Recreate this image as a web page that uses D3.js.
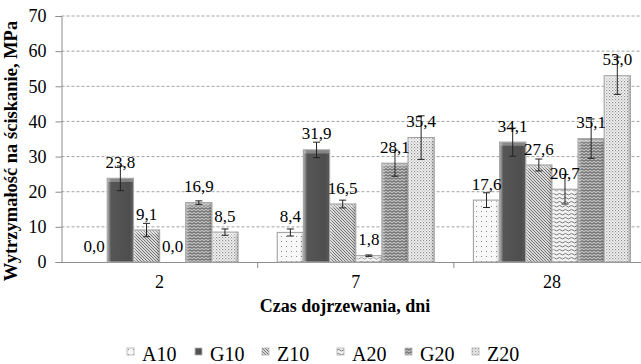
<!DOCTYPE html>
<html><head><meta charset="utf-8">
<script src="https://cdn.jsdelivr.net/npm/d3@7/dist/d3.min.js"></script>
<style>body{margin:0;background:#fff}svg{display:block}</style>
</head><body><svg id="c" width="641" height="364"></svg>
<script>
const categories = ["2", "7", "28"];
const seriesNames = ["A10", "G10", "Z10", "A20", "G20", "Z20"];
const A10 = [0.0, 8.4, 17.6];
const G10 = [23.8, 31.9, 34.1];
const Z10 = [9.1, 16.5, 27.6];
const A20 = [0.0, 1.8, 20.7];
const G20 = [16.9, 28.1, 35.1];
const Z20 = [8.5, 35.4, 53.0];
const errA10 = [0, 1.0, 2.1];
const errG10 = [3.5, 2.2, 4.0];
const errZ10 = [1.9, 1.1, 1.7];
const errA20 = [0, 0.2, 4.2];
const errG20 = [0.5, 3.7, 5.6];
const errZ20 = [0.9, 6.2, 5.3];
const yTicks = [0, 10, 20, 30, 40, 50, 60, 70];
const yTitle = "Wytrzymałość na ściskanie, MPa";
const xTitle = "Czas dojrzewania, dni";

(function () {
const FONT = "'Liberation Serif', 'Times New Roman', Times, serif";
const values = [A10, G10, Z10, A20, G20, Z20];
const errs = [errA10, errG10, errZ10, errA20, errG20, errZ20];
const data = [];
categories.forEach((c, ci) => seriesNames.forEach((s, si) => data.push({c, s, si, v: values[si][ci], e: errs[si][ci]})));

const svg = d3.select("#c");
const defs = svg.append("defs");
function pat(id, w, h, build, bg) {
  const p = defs.append("pattern").attr("id", id).attr("patternUnits", "userSpaceOnUse").attr("width", w).attr("height", h);
  p.append("rect").attr("width", w).attr("height", h).attr("fill", bg);
  build(p);
}
pat("pA10", 5, 5, p => { p.append("rect").attr("x", 1).attr("y", 1).attr("width", 1).attr("height", 1).attr("fill", "#8a8a8a"); }, "#f8f8f8");
pat("pZ10", 3, 3, p => { p.append("path").attr("d", "M-1,-1 L4,4 M-1,2 L1,4 M2,-1 L4,1").attr("stroke", "#6a6a6a").attr("stroke-width", 0.9); }, "#d8d8d8");
pat("pA20", 6, 4, p => { p.append("path").attr("d", "M0,2.2 Q1.5,0.6 3,2.2 T6,2.2").attr("stroke", "#6e6e6e").attr("stroke-width", 0.9).attr("fill", "none"); }, "#f2f2f2");
pat("pG20", 4, 3, p => { p.append("path").attr("d", "M0,2.3 L2,0.7 L4,2.3").attr("stroke", "#4e4e4e").attr("stroke-width", 1).attr("fill", "none"); }, "#bdbdbd");
pat("pZ20", 3, 3, p => { p.append("rect").attr("x", 0).attr("y", 0).attr("width", 1.2).attr("height", 1.2).attr("fill", "#8c8c8c"); p.append("rect").attr("x", 1.5).attr("y", 1.5).attr("width", 1.2).attr("height", 1.2).attr("fill", "#b0b0b0"); }, "#f4f4f4");
const g10 = defs.append("linearGradient").attr("id", "gG10").attr("x1", 0).attr("x2", 1).attr("y1", 0).attr("y2", 0);
g10.append("stop").attr("offset", "0%").attr("stop-color", "#7a7a7a");
g10.append("stop").attr("offset", "15%").attr("stop-color", "#565656");
g10.append("stop").attr("offset", "85%").attr("stop-color", "#4e4e4e");
g10.append("stop").attr("offset", "100%").attr("stop-color", "#6e6e6e");
const shade = defs.append("linearGradient").attr("id", "shade").attr("x1", 0).attr("x2", 1).attr("y1", 0).attr("y2", 0);
shade.append("stop").attr("offset", "0%").attr("stop-color", "#fff").attr("stop-opacity", 0.35);
shade.append("stop").attr("offset", "12%").attr("stop-color", "#fff").attr("stop-opacity", 0);
shade.append("stop").attr("offset", "88%").attr("stop-color", "#000").attr("stop-opacity", 0);
shade.append("stop").attr("offset", "100%").attr("stop-color", "#000").attr("stop-opacity", 0.18);
const fills = {A10: "url(#pA10)", G10: "url(#gG10)", Z10: "url(#pZ10)", A20: "url(#pA20)", G20: "url(#pG20)", Z20: "url(#pZ20)"};

const pl = 61.5, pr = 650, pt = 16, pb = 262;
const x0 = d3.scaleBand().domain(categories).range([pl, pr]).paddingInner(0).paddingOuter(0);
const bw = x0.bandwidth();
const x1 = d3.scaleBand().domain(seriesNames).range([bw * 0.1, bw * 0.9]);
const y = d3.scaleLinear().domain([0, 70]).range([pb, pt]);

svg.append("g").selectAll("line").data(yTicks.filter(t => t > 0)).join("line")
  .attr("x1", pl).attr("x2", 641).attr("y1", d => y(d)).attr("y2", d => y(d))
  .attr("stroke", "#8c8c8c").attr("stroke-width", 0.8).attr("stroke-dasharray", "3,2");

const yAx = svg.append("g").attr("transform", `translate(${pl},0)`).call(d3.axisLeft(y).tickValues(yTicks).tickSize(6).tickPadding(9).tickFormat(d3.format("d")));
yAx.select(".domain").attr("stroke", "#8c8c8c");
yAx.selectAll(".tick line").attr("stroke", "#8c8c8c");
yAx.selectAll("text").attr("font-size", 18).attr("fill", "#000");

const xAx = svg.append("g").attr("transform", `translate(0,${pb})`).call(d3.axisBottom(x0).tickSize(0).tickPadding(13));
xAx.select(".domain").attr("stroke", "#8c8c8c");
xAx.selectAll("text").attr("font-size", 18).attr("fill", "#000");
svg.append("g").selectAll("line").data(categories.slice(1)).join("line")
  .attr("x1", d => x0(d)).attr("x2", d => x0(d)).attr("y1", pb).attr("y2", pb + 6)
  .attr("stroke", "#8c8c8c");

const bars = svg.append("g");
const pos = data.filter(d => d.v > 0);
bars.selectAll("rect.bar").data(pos).join("rect").attr("class", "bar")
  .attr("x", d => x0(d.c) + x1(d.s)).attr("width", x1.bandwidth())
  .attr("y", d => y(d.v)).attr("height", d => y(0) - y(d.v))
  .attr("fill", d => fills[d.s]).attr("stroke", "#a6a6a6").attr("stroke-width", 1.2);
bars.selectAll("rect.sh").data(pos).join("rect").attr("class", "sh")
  .attr("x", d => x0(d.c) + x1(d.s) + 0.6).attr("width", x1.bandwidth() - 1.2)
  .attr("y", d => y(d.v) + 0.6).attr("height", d => y(0) - y(d.v) - 0.6)
  .attr("fill", "url(#shade)");
bars.selectAll("rect.topcap").data(pos).join("rect").attr("class", "topcap")
  .attr("x", d => x0(d.c) + x1(d.s) + 0.6).attr("width", x1.bandwidth() - 1.2)
  .attr("y", d => y(d.v) + 0.6).attr("height", d => Math.min(3, y(0) - y(d.v) - 0.6))
  .attr("fill", "#fff").attr("opacity", 0.3);

const eb = svg.append("g").attr("stroke", "#222").attr("stroke-width", 1);
data.filter(d => d.e > 0).forEach(d => {
  const cx = x0(d.c) + x1(d.s) + x1.bandwidth() / 2;
  const y1 = y(d.v + d.e), y2 = y(d.v - d.e);
  eb.append("line").attr("x1", cx).attr("x2", cx).attr("y1", y1).attr("y2", y2);
  eb.append("line").attr("x1", cx - 3.5).attr("x2", cx + 3.5).attr("y1", y1).attr("y2", y1);
  eb.append("line").attr("x1", cx - 3.5).attr("x2", cx + 3.5).attr("y1", y2).attr("y2", y2);
});

svg.append("g").selectAll("text").data(data).join("text")
  .attr("x", d => x0(d.c) + x1(d.s) + x1.bandwidth() / 2)
  .attr("y", d => y(d.v) - 10.5)
  .attr("text-anchor", "middle").attr("font-size", 17).attr("fill", "#000")
  .text(d => d.v.toFixed(1).replace(".", ","));

svg.append("text").attr("transform", "translate(17,151) rotate(-90)").attr("text-anchor", "middle")
  .attr("font-size", 18.5).attr("font-weight", "bold").text(yTitle);
svg.append("text").attr("x", 345).attr("y", 312).attr("text-anchor", "middle")
  .attr("font-size", 18).attr("font-weight", "bold").text(xTitle);

const lx = [127, 195, 262, 337, 405, 472];
const lg = svg.append("g").selectAll("g").data(seriesNames).join("g")
  .attr("transform", (d, i) => `translate(${lx[i]},348)`);
lg.append("rect").attr("width", 7).attr("height", 7).attr("fill", d => fills[d]).attr("stroke", "#b0b0b0").attr("stroke-width", 0.8);
lg.append("text").attr("x", 15).attr("y", 12.5).attr("font-size", 20).attr("fill", "#000").text(d => d);

svg.selectAll("g").attr("font-family", null);
svg.selectAll("text").style("font-family", FONT);
})();
</script></body></html>
